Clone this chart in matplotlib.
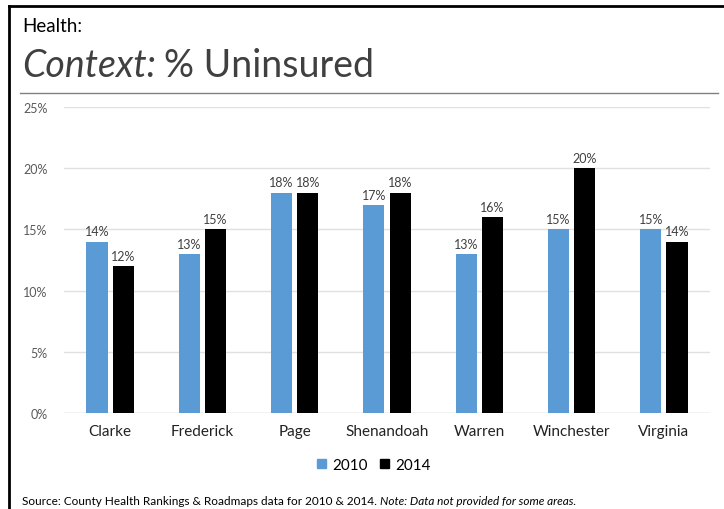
import matplotlib
matplotlib.use("Agg")
import matplotlib.pyplot as plt
from matplotlib.lines import Line2D
from matplotlib.patches import Patch
import numpy as np

categories = ["Clarke", "Frederick", "Page", "Shenandoah", "Warren", "Winchester", "Virginia"]
vals_2010 = [14, 13, 18, 17, 13, 15, 15]
vals_2014 = [12, 15, 18, 18, 16, 20, 14]
yticks = [0, 5, 10, 15, 20, 25]
series_names = ["2010", "2014"]

plt.rcParams['font.family'] = ['Lato', 'DejaVu Sans']

W, H = 724, 510
fig = plt.figure(figsize=(W/100, H/100), dpi=100)

def fx(px): return px / W
def fy(py): return 1 - py / H

ax = fig.add_axes([fx(64), fy(414), fx(710) - fx(64), fy(108) - fy(414)])
x = np.arange(len(categories))
bw = 0.23
gap = 0.055
c1 = "#5b9bd5"
c2 = "#000000"
b1 = ax.bar(x - (bw + gap) / 2, vals_2010, bw, color=c1, zorder=3)
b2 = ax.bar(x + (bw + gap) / 2, vals_2014, bw, color=c2, zorder=3)
for bars, vals in ((b1, vals_2010), (b2, vals_2014)):
    for r, v in zip(bars, vals):
        ax.text(r.get_x() + r.get_width() / 2, v + 0.35, f"{v}%", ha="center", va="bottom",
                fontsize=9, color="#404040")

ax.set_xlim(-0.5, len(categories) - 0.5)
ax.set_ylim(0, 25)
ax.set_yticks(yticks)
ax.set_yticklabels([f"{t}%" for t in yticks], fontsize=9, color="#595959")
ax.set_xticks(x)
ax.set_xticklabels(categories, fontsize=11, color="#222222")
ax.tick_params(axis="both", length=0)
ax.tick_params(axis="y", pad=12)
ax.tick_params(axis="x", pad=8)
ax.grid(axis="y", color="#e0e0e0", linewidth=1, zorder=0)
for s in ax.spines.values():
    s.set_visible(False)
ax.axhline(0, color="#d9d9d9", linewidth=1, zorder=1)

# legend
handles = [Patch(color=c1), Patch(color=c2)]
fig.legend(handles, series_names, loc="center", bbox_to_anchor=(fx(374), fy(466)), ncol=2,
           frameon=False, fontsize=11, handlelength=0.6, handleheight=0.6,
           handletextpad=0.4, columnspacing=0.8)

# titles
fig.text(fx(22), fy(27), "Health:", fontsize=13.5, color="#000000", ha="left", va="center")
fig.text(fx(22), fy(66), "Context:", fontsize=27, color="#404040", ha="left", va="center",
         style="italic")
fig.text(fx(164), fy(66), "% Uninsured", fontsize=27, color="#404040", ha="left", va="center")

# rule
fig.add_artist(Line2D([fx(20), fx(718)], [fy(94), fy(94)], color="#808080", linewidth=1))

# border
fig.add_artist(Line2D([fx(9), fx(9)], [fy(7), 0], color="black", linewidth=2))
fig.add_artist(Line2D([fx(9), 1], [fy(7), fy(7)], color="black", linewidth=2))

# source
t1 = fig.text(fx(22), fy(502), "Source: County Health Rankings & Roadmaps data for 2010 & 2014. ",
              fontsize=8.5, color="#000000", ha="left", va="center")
fig.canvas.draw()
bb = t1.get_window_extent()
fig.text(bb.x1 / fig.dpi / fig.get_figwidth(), fy(502), "Note: Data not provided for some areas.",
         fontsize=8.5, color="#000000", ha="left", va="center", style="italic")

fig.savefig("out.png", dpi=100)
